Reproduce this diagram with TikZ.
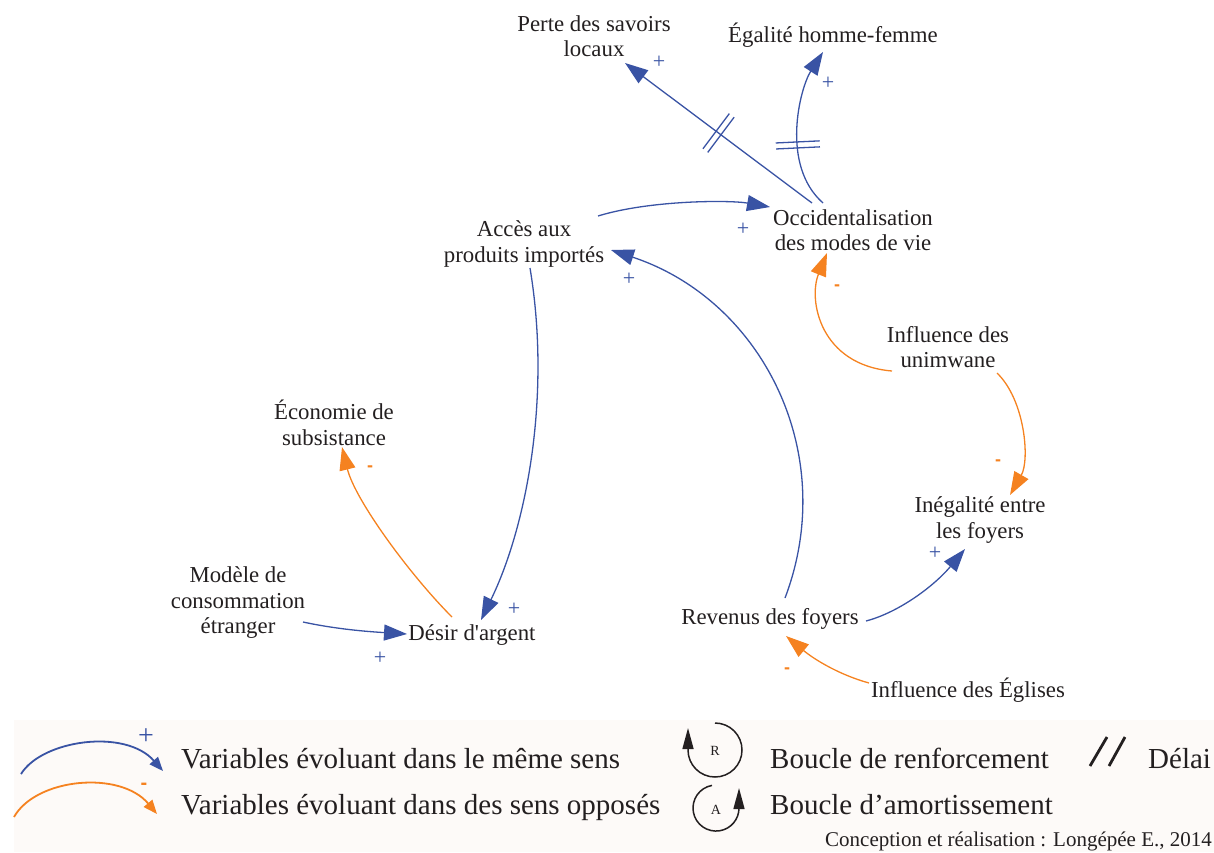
\documentclass[tikz,border=0pt]{standalone}
\usepackage{fontspec}
\setmainfont{Liberation Serif}
\newfontfamily\signfont{Liberation Sans}
\newfontfamily\plainserif{Liberation Serif}[Ligatures=ResetAll]
\usetikzlibrary{arrows.meta,decorations.markings,calc}
\definecolor{cblue}{RGB}{57,83,164}
\definecolor{corange}{RGB}{245,130,32}
\definecolor{txt}{RGB}{35,31,32}
\definecolor{legbg}{RGB}{253,250,248}
\begin{document}
\begin{tikzpicture}[x=1pt,y=-1pt,
  var/.style={font=\fontsize{22.8}{25.5}\selectfont, align=center, inner sep=0pt, text=txt},
  plink/.style={draw=cblue, line width=1.3pt, -{Triangle[length=23pt,width=16pt]}},
  nlink/.style={draw=corange, line width=1.3pt, -{Triangle[length=23pt,width=16pt]}},
  psign/.style={font=\fontsize{22}{22}\selectfont, text=cblue, inner sep=0pt},
  nsign/.style={font=\signfont\bfseries\fontsize{18}{18}\selectfont, text=corange, inner sep=0pt},
  delaymark/.style={postaction={decorate, decoration={markings, mark=at position #1 with {\draw[-, cblue, line width=1.3pt] (-3pt,-22pt) -- (-3pt,22pt) (3pt,-22pt) -- (3pt,22pt);}}}},
  legtext/.style={font=\fontsize{29}{29}\selectfont, text=txt, inner sep=0pt, anchor=base west},
  looparrow/.style={draw=txt, line width=1.5pt, -{Triangle[length=21pt,width=11pt]}},
  loopletter/.style={font=\fontsize{14}{14}\selectfont, text=txt, inner sep=0pt},
]
\useasboundingbox (0,0) rectangle (1214,852);
\fill[legbg] (14,720) rectangle (1214,852);

% variables
\node[var] (perte) at (594,36) {Perte des savoirs\\locaux};
\node[var] (egal) at (833,35) {Égalité homme-femme};
\node[var] (acces) at (524,244) {Accès aux\\produits importés};
\node[var] (occ) at (853,230) {Occidentalisation\\des modes de vie};
\node[var] (unim) at (948,347) {Influence des\\unimwane};
\node[var] (eco) at (334,423) {Économie de\\subsistance};
\node[var] (ineg) at (980,520) {Inégalité entre\\les foyers};
\node[var] (modele) at (238,603) {Modèle de\\consommation\\étranger};
\node[var] (desir) at (472,635) {\plainserif Désir d'argent};
\node[var] (revenus) at (770,619) {Revenus des foyers};
\node[var] (eglises) at (968,690) {Influence des Églises};

% links
\draw[plink, delaymark=0.5] ($(occ)+(-41,-27)$) -- ($(perte)+(31,27)$);
\draw[plink, delaymark=0.4] ($(occ)+(-30,-27)$) .. controls (780,165) and (800,88) .. ($(egal)+(-10,17)$);
\draw[plink] ($(acces)+(74,-28)$) .. controls (650,200) and (730,200) .. ($(occ)+(-83,-23)$);
\draw[plink] ($(revenus)+(15,-21)$) .. controls (840,453) and (762,300) .. ($(acces)+(87,6)$);
\draw[plink] ($(acces)+(6,24)$) .. controls (552,400) and (525,530) .. ($(desir)+(9,-15)$);
\draw[nlink] ($(desir)+(-20,-18)$) .. controls (410,575) and (355,500) .. ($(eco)+(8,24)$);
\draw[plink] ($(modele)+(65,19)$) .. controls (340,630) and (375,632) .. ($(desir)+(-65,-1)$);
\draw[nlink] ($(unim)+(-56,24)$) .. controls (820,365) and (808,300) .. ($(occ)+(-26,23)$);
\draw[nlink] ($(unim)+(49,26)$) .. controls (1025,400) and (1030,460) .. ($(ineg)+(30,-25)$);
\draw[plink] ($(revenus)+(96,2)$) .. controls (900,612) and (935,585) .. ($(ineg)+(-15,29)$);
\draw[nlink] ($(eglises)+(-99,-7)$) .. controls (840,675) and (815,660) .. ($(revenus)+(16,17)$);

% signs
\node[psign] (s1) at (659,62) {+};
\node[psign] (s2) at (828,83) {+};
\node[psign] (s3) at (743,229) {+};
\node[psign] (s4) at (629,279) {+};
\node[psign] (s5) at (514,609) {+};
\node[psign] (s6) at (380,658) {+};
\node[psign] (s7) at (935,553) {+};
\node[nsign] (m1) at (370,469) {-};
\node[nsign] (m2) at (837,288) {-};
\node[nsign] (m3) at (998,463) {-};
\node[nsign] (m4) at (787,671) {-};

% legend
\coordinate (lb1) at (21,774); \coordinate (lb2) at (163,771);
\draw[draw=cblue, line width=1.8pt, -{Triangle[length=14pt,width=11pt]}] (lb1) .. controls (42,740) and (125,728) .. (lb2);
\coordinate (lo1) at (14,817); \coordinate (lo2) at (157,814);
\draw[draw=corange, line width=1.8pt, -{Triangle[length=14pt,width=11pt]}] (lo1) .. controls (36,778) and (120,770) .. (lo2);
\node[font=\fontsize{28}{28}\selectfont, text=cblue, inner sep=0pt] (lplus) at (146,737) {+};
\node[font=\signfont\bfseries\fontsize{20}{20}\selectfont, text=corange, inner sep=0pt] (lminus) at (144,786) {-};
\node[legtext] (lt1) at (181,768) {Variables évoluant dans le même sens};
\node[legtext] (lt2) at (181,814) {Variables évoluant dans des sens opposés};

\node[loopletter] (R) at (715,751) {R};
\draw[looparrow] ($(R)+(0,-28)$) arc[start angle=90, end angle=-180, radius=27pt] -- ++(0,-22);
\node[loopletter] (A) at (716,810) {A};
\draw[looparrow] ($(A)+(-4,-24.6)$) arc[start angle=100, end angle=360, radius=23pt] -- ++(0,-20);
\node[legtext] (lt3) at (770,768) {Boucle de renforcement};
\node[legtext] (lt4) at (770,814) {Boucle d’amortissement};

\draw[txt, line width=2.8pt] (1090,766) -- (1107,737) (1109,766) -- (1125,737);
\node[legtext] (lt5) at (1148,768) {Délai};
\node[font=\fontsize{21}{21}\selectfont, text=txt, inner sep=0pt, anchor=base east] (credit) at (1212,846) {Conception et réalisation : Longépée E., 2014};
\end{tikzpicture}
\end{document}
